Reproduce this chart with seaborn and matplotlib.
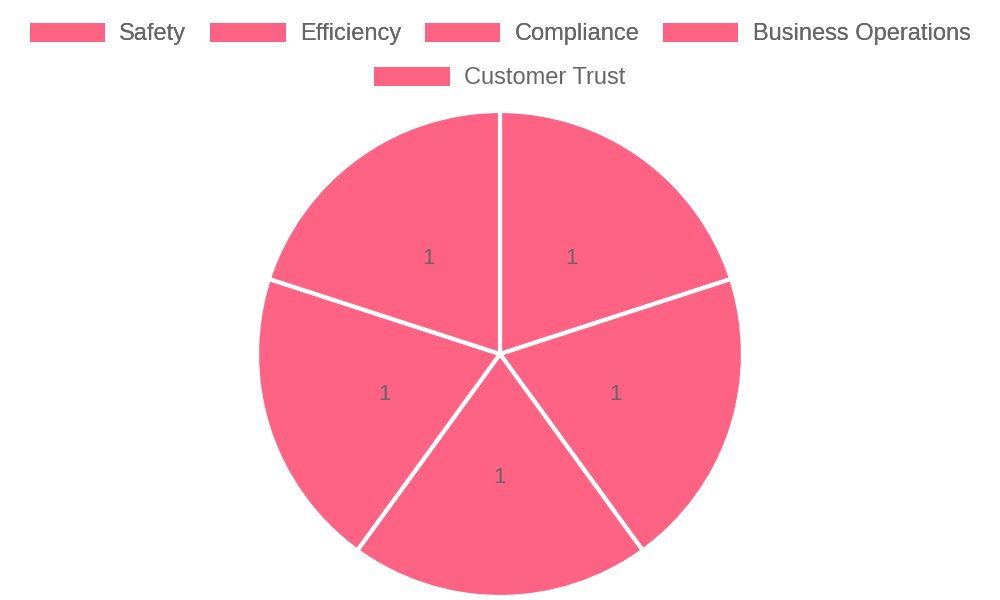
import matplotlib
matplotlib.use("Agg")
import matplotlib.pyplot as plt
from matplotlib.patches import Patch
import seaborn as sns

categories = ["Safety", "Efficiency", "Compliance", "Business Operations", "Customer Trust"]
values = [1, 1, 1, 1, 1]
slice_color = "#FF6384"

sns.set_theme(style="white")
plt.rcParams["font.family"] = ["Liberation Sans", "DejaVu Sans"]

fig = plt.figure(figsize=(10, 6), dpi=100)
r_px = 243
cx, cy = 500, 354
ax = fig.add_axes([(cx - r_px) / 1000, (600 - cy - r_px) / 600, 2 * r_px / 1000, 2 * r_px / 600])

colors = [slice_color] * len(values)
wedges, texts = ax.pie(
    values,
    labels=[str(v) for v in values],
    labeldistance=0.5,
    colors=colors,
    startangle=90,
    counterclock=False,
    wedgeprops=dict(edgecolor="white", linewidth=3),
    textprops=dict(color="#666666", fontsize=16),
)
for t in texts:
    t.set_ha("center")
    t.set_va("center_baseline")
ax.set_xlim(-1, 1)
ax.set_ylim(-1, 1)
ax.set_aspect("equal")
ax.axis("off")

handles = [Patch(facecolor=slice_color, edgecolor="none", label=c) for c in categories]
leg_kw = dict(
    frameon=False,
    fontsize=17,
    handlelength=3.2,
    handleheight=0.85,
    handletextpad=0.6,
    columnspacing=1.0,
    labelcolor="#666666",
    loc="center",
    borderaxespad=0,
    borderpad=0,
)
leg1 = fig.legend(handles=handles[:4], ncol=4, bbox_to_anchor=(0.5, 1 - 34 / 600), **leg_kw)
fig.add_artist(leg1)
fig.legend(handles=handles[4:], ncol=1, bbox_to_anchor=(0.5, 1 - 78 / 600), **leg_kw)

fig.savefig("out.png", dpi=100, facecolor="white")
